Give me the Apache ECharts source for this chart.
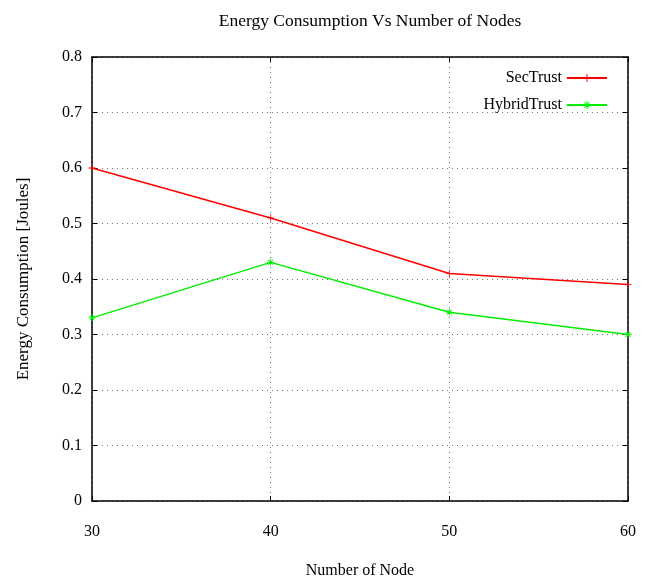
<!DOCTYPE html>
<html><head><meta charset="utf-8">
<script src="https://cdn.jsdelivr.net/npm/echarts@6/dist/echarts.min.js"></script>
<style>html,body{margin:0;padding:0;background:#fff}#c{width:650px;height:584px}</style>
</head><body><div id="c"></div>
<script>
const nodes = [30, 40, 50, 60];
const secTrust = [0.60, 0.51, 0.41, 0.39];
const hybridTrust = [0.33, 0.43, 0.34, 0.30];
const yTicks = [0, 0.1, 0.2, 0.3, 0.4, 0.5, 0.6, 0.7, 0.8];

const font = '"Liberation Serif", "DejaVu Serif", serif';
const plusPath = 'path://M-0.6,-5H0.6V-0.6H5V0.6H0.6V5H-0.6V0.6H-5V-0.6H-0.6Z';
const starPath = 'path://M-0.6,-5H0.6V-0.6H5V0.6H0.6V5H-0.6V0.6H-5V-0.6H-0.6Z M-3.9,-3.1L-3.1,-3.9L3.9,3.1L3.1,3.9Z M3.1,-3.9L3.9,-3.1L-3.1,3.9L-3.9,3.1Z';

const chart = echarts.init(document.getElementById('c'), null, {renderer: 'canvas'});
const baseX = {
  type: 'value', min: 30, max: 60, interval: 10,
  axisLine: {show: true, onZero: false, lineStyle: {color: '#000', width: 1.5}},
  axisTick: {show: true, inside: true, length: 5, lineStyle: {color: '#000'}},
};
const baseY = {
  type: 'value', min: 0, max: 0.8, interval: 0.1,
  axisLine: {show: true, onZero: false, lineStyle: {color: '#000', width: 1.5}},
  axisTick: {show: true, inside: true, length: 5, lineStyle: {color: '#000'}},
};
chart.setOption({
  animation: false,
  backgroundColor: '#fff',
  title: {
    text: 'Energy Consumption Vs Number of Nodes',
    left: 365, top: 7, textAlign: 'center',
    textStyle: {fontFamily: font, fontSize: 17.5, fontWeight: 'normal', color: '#000'}
  },
  legend: {
    right: 37, top: 65, orient: 'vertical', align: 'right',
    itemWidth: 40, itemHeight: 10, itemGap: 11,
    textStyle: {fontFamily: font, fontSize: 16, color: '#000'},
    data: ['SecTrust', 'HybridTrust']
  },
  grid: {left: 92, right: 22, top: 57, bottom: 79},
  xAxis: [
    Object.assign({}, baseX, {
      position: 'bottom',
      name: 'Number of Node', nameLocation: 'middle', nameGap: 62,
      nameTextStyle: {fontFamily: font, fontSize: 16, color: '#000'},
      axisLabel: {fontFamily: font, fontSize: 16, color: '#000', margin: 23},
      splitLine: {show: true, lineStyle: {color: '#777', type: [1, 4], width: 1}}
    }),
    Object.assign({}, baseX, {
      position: 'top', axisLabel: {show: false}, splitLine: {show: false}
    })
  ],
  yAxis: [
    Object.assign({}, baseY, {
      position: 'left',
      name: 'Energy Consumption [Joules]', nameLocation: 'middle', nameGap: 60,
      nameTextStyle: {fontFamily: font, fontSize: 17, color: '#000'},
      axisLabel: {fontFamily: font, fontSize: 16, color: '#000', margin: 10,
        formatter: v => String(+v.toFixed(1))},
      splitLine: {show: true, lineStyle: {color: '#777', type: [1, 4], width: 1}}
    }),
    Object.assign({}, baseY, {
      position: 'right', axisLabel: {show: false}, splitLine: {show: false}
    })
  ],
  series: [
    {
      name: 'SecTrust', type: 'line',
      data: nodes.map((x, i) => [x, secTrust[i]]),
      color: '#ff0000', lineStyle: {width: 1.5, color: '#ff0000'},
      symbol: plusPath, symbolSize: 7, showSymbol: true,
      itemStyle: {color: '#ff0000'}
    },
    {
      name: 'HybridTrust', type: 'line',
      data: nodes.map((x, i) => [x, hybridTrust[i]]),
      color: '#00ee00', lineStyle: {width: 1.5, color: '#00ee00'},
      symbol: starPath, symbolSize: 7, showSymbol: true,
      itemStyle: {color: '#00ee00'}
    }
  ]
});
</script></body></html>
